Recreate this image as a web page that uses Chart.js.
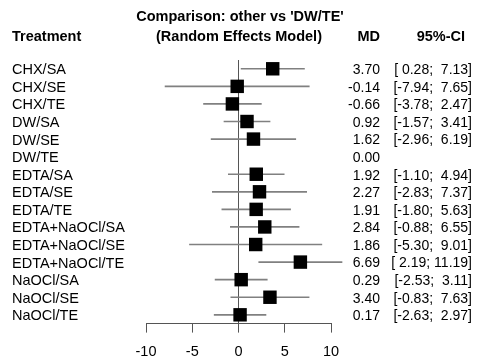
<!DOCTYPE html>
<html>
<head>
<meta charset="utf-8">
<script src="https://cdn.jsdelivr.net/npm/chart.js@4"></script>
<style>
  html, body { margin: 0; padding: 0; background: #fff; }
  #wrap { width: 477px; height: 362px; position: relative; }
</style>
</head>
<body>
<div id="wrap"><canvas id="forest"></canvas></div>
<script>
// treatments compared against DW/TE
var treatments = ['CHX/SA', 'CHX/SE', 'CHX/TE', 'DW/SA', 'DW/SE', 'DW/TE',
  'EDTA/SA', 'EDTA/SE', 'EDTA/TE', 'EDTA+NaOCl/SA', 'EDTA+NaOCl/SE', 'EDTA+NaOCl/TE',
  'NaOCl/SA', 'NaOCl/SE', 'NaOCl/TE']
var md = [3.70, -0.14, -0.66, 0.92, 1.62, 0.00, 1.92, 2.27, 1.91, 2.84, 1.86, 6.69, 0.29, 3.40, 0.17]
var ciLow = [0.28, -7.94, -3.78, -1.57, -2.96, null, -1.10, -2.83, -1.80, -0.88, -5.30, 2.19, -2.53, -0.83, -2.63]
var ciHigh = [7.13, 7.65, 2.47, 3.41, 6.19, null, 4.94, 7.37, 5.63, 6.55, 9.01, 11.19, 3.11, 7.63, 2.97]
var xTicks = [-10, -5, 0, 5, 10]

var FONT = '"Liberation Sans", Arial, sans-serif'

// reference row (DW/TE) has no CI, no square
var ciBars = treatments.map(function(t, i){
    return ciLow[i] == null ? null : [ciLow[i], ciHigh[i]]
})
var squares = []
treatments.forEach(function(t, i){
    if (ciLow[i] != null) squares.push({ x: md[i], y: t })
})

function fmt(v){ return v.toFixed(2) }
function pad(s, n){ while (s.length < n) s = ' ' + s; return s }

var textPlugin = {
    id: 'forestText',
    afterDraw: function(chart){
        var ctx = chart.ctx
        var y = chart.scales.y
        ctx.save()
        ctx.fillStyle = '#000'
        ctx.textBaseline = 'middle'

        // headers
        ctx.font = 'bold 14.5px ' + FONT
        ctx.textAlign = 'center'
        ctx.fillText("Comparison: other vs 'DW/TE'", 240, 17)
        ctx.fillText('(Random Effects Model)', 239, 37)
        ctx.textAlign = 'left'
        ctx.fillText('Treatment', 12, 37)
        ctx.textAlign = 'right'
        ctx.fillText('MD', 380, 37)
        ctx.fillText('95%-CI', 465, 37)

        treatments.forEach(function(t, i){
            var py = y.getPixelForValue(i) + 1.5
            ctx.font = '14.5px ' + FONT
            ctx.textAlign = 'left'
            ctx.fillText(t, 12, py)
            ctx.font = '14px ' + FONT
            ctx.textAlign = 'right'
            ctx.fillText(fmt(md[i]), 380, py)
            if (ciLow[i] != null) {
                // R style padded CI string, right aligned
                var s = '[' + pad(fmt(ciLow[i]), 5) + '; ' + pad(fmt(ciHigh[i]), 5) + ']'
                ctx.fillText(s, 472, py)
            }
        })
        ctx.restore()
    }
}

new Chart(document.getElementById('forest'), {
    type: 'bar',
    data: {
        labels: treatments,
        datasets: [
            {
                type: 'scatter',
                data: squares,
                pointStyle: 'rect',
                radius: 9.5,
                backgroundColor: '#000',
                borderColor: '#000',
                borderWidth: 0,
                order: 0,
                clip: false
            },
            {
                type: 'bar',
                data: ciBars,
                backgroundColor: '#808080',
                barThickness: 1,
                borderWidth: 0,
                borderSkipped: false,
                order: 1,
                clip: false
            }
        ]
    },
    options: {
        indexAxis: 'y',
        responsive: true,
        maintainAspectRatio: false,
        animation: false,
        events: [],
        layout: { padding: { left: 146, right: 146, top: 60, bottom: -10 } },
        plugins: { legend: { display: false }, tooltip: { enabled: false } },
        scales: {
            y: {
                type: 'category',
                display: false,
                offset: true
            },
            x: {
                type: 'linear',
                min: -10,
                max: 10,
                afterBuildTicks: function(scale){
                    scale.ticks = xTicks.map(function(v){ return { value: v } })
                },
                grid: {
                    color: function(c){ return c.tick && c.tick.value === 0 ? '#555' : 'rgba(0,0,0,0)' },
                    tickColor: '#555',
                    tickLength: 9,
                    lineWidth: 1
                },
                border: { display: true, color: '#555', width: 1 },
                ticks: {
                    color: '#000',
                    padding: 11,
                    font: { family: FONT, size: 14.5 }
                }
            }
        }
    },
    plugins: [textPlugin]
})
</script>
</body>
</html>
